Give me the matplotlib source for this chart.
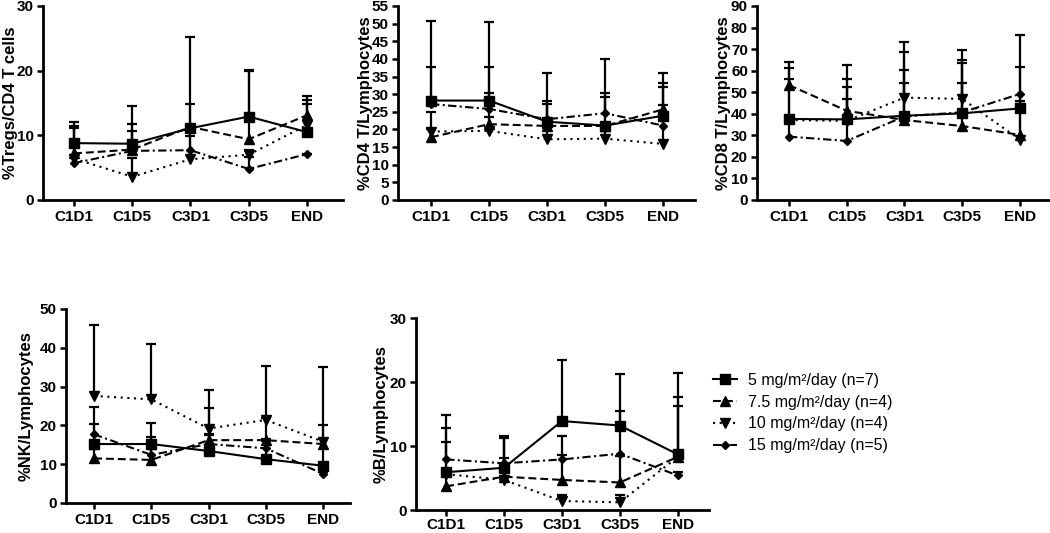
import matplotlib
matplotlib.use('Agg')
import matplotlib.pyplot as plt
import numpy as np
from matplotlib.lines import Line2D

plt.rcParams['font.family'] = ['Liberation Sans', 'DejaVu Sans']

timepoints = ['C1D1', 'C1D5', 'C3D1', 'C3D5', 'END']
doses = ['5 mg/m\u00b2/day (n=7)', '7.5 mg/m\u00b2/day (n=4)',
         '10 mg/m\u00b2/day (n=4)', '15 mg/m\u00b2/day (n=5)']

# rows: 5, 7.5, 10, 15 mg/m2/day ; mean and upper SD
tregs_mean = [[8.8, 8.7, 11.1, 12.9, 10.5],
              [7.2, 7.8, 11.3, 9.4, 13.1],
              [6.4, 3.6, 6.3, 7.0, 11.6],
              [5.7, 7.6, 7.7, 4.8, 7.1]]
tregs_sd = [[3.2, 5.9, 14.1, 7.2, 4.9],
            [4.3, 3.9, 3.5, 10.5, 3.0],
            [4.7, 2.9, 3.6, 0.8, 3.3],
            [1.3, 3.1, 2.8, 1.8, 0.0]]

cd4_mean = [[28.2, 28.2, 22.2, 21.1, 23.9],
            [17.8, 21.5, 21.0, 21.0, 25.7],
            [19.4, 19.6, 17.2, 17.4, 15.9],
            [27.2, 25.8, 22.9, 24.6, 21.1]]
cd4_sd = [[22.5, 22.2, 13.9, 18.9, 9.2],
          [2.2, 8.9, 6.2, 8.2, 10.2],
          [5.6, 4.0, 3.3, 2.1, 11.1],
          [10.6, 12.0, 5.3, 5.7, 10.8]]

cd8_mean = [[37.6, 37.4, 39.1, 40.2, 42.5],
            [53.3, 41.4, 37.1, 34.3, 30.2],
            [37.1, 36.7, 47.5, 46.9, 28.0],
            [29.4, 27.4, 38.8, 40.7, 49.2]]
cd8_sd = [[23.5, 25.2, 34.0, 29.4, 34.0],
          [10.6, 14.6, 17.3, 20.1, 15.7],
          [18.9, 15.9, 21.0, 18.0, 16.5],
          [8.0, 19.5, 21.5, 23.0, 12.3]]

nk_mean = [[15.2, 15.2, 13.4, 11.3, 9.6],
           [11.5, 11.1, 16.2, 16.2, 15.2],
           [27.6, 26.7, 19.2, 21.4, 15.8],
           [17.7, 12.4, 15.2, 14.1, 7.5]]
nk_sd = [[9.5, 5.5, 4.1, 5.2, 10.5],
         [2.5, 2.9, 8.4, 5.6, 1.3],
         [18.3, 14.2, 9.9, 13.9, 19.3],
         [2.7, 4.7, 2.7, 1.9, 0.5]]

b_mean = [[5.9, 6.6, 13.9, 13.2, 8.7],
          [3.7, 5.2, 4.7, 4.3, 8.3],
          [5.6, 4.7, 1.4, 1.2, 8.3],
          [7.9, 7.3, 7.9, 8.8, 5.4]]
b_sd = [[8.9, 5.0, 9.5, 8.0, 12.7],
        [1.8, 6.0, 6.9, 4.1, 9.3],
        [5.1, 3.5, 1.0, 1.2, 7.9],
        [4.9, 4.1, 0.7, 6.6, 0.6]]

W, H = 1050, 533
fig = plt.figure(figsize=(W / 100, H / 100), dpi=100)

styles = [
    dict(ls='-', marker='s', ms=7.0),
    dict(ls=(0, (3.8, 1.9)), marker='^', ms=6.5),
    dict(ls=(0, (1, 2.2)), marker='v', ms=6.5),
    dict(ls=(0, (4, 1.6, 1, 1.6)), marker='D', ms=4.5),
]

# panel boxes in pixels: left, right, top, bottom ; xlim ; ylim; yticks; label ; label right px
panels = [
    dict(box=(43, 343, 6, 200), xlim=(-0.532, 4.618), ymax=30, step=10,
         label='%Tregs/CD4 T cells', lab=18, mean=tregs_mean, sd=tregs_sd, xpad=3),
    dict(box=(398, 695, 6, 200), xlim=(-0.57, 4.55), ymax=55, step=5,
         label='%CD4 T/Lymphocytes', lab=373, mean=cd4_mean, sd=cd4_sd, xpad=3),
    dict(box=(757, 1050, 6, 200), xlim=(-0.554, 4.52), ymax=90, step=10,
         label='%CD8 T/Lymphocytes', lab=731, mean=cd8_mean, sd=cd8_sd, xpad=3),
    dict(box=(66, 350, 309, 503), xlim=(-0.49, 4.47), ymax=50, step=10,
         label='%NK/Lymphocytes', lab=34, mean=nk_mean, sd=nk_sd, xpad=3),
    dict(box=(416, 709, 318, 510), xlim=(-0.52, 4.54), ymax=30, step=10,
         label='%B/Lymphocytes', lab=389, mean=b_mean, sd=b_sd, xpad=1),
]

x = np.arange(len(timepoints))
for p in panels:
    l, r, t, b = p['box']
    ax = fig.add_axes([l / W, 1 - b / H, (r - l) / W, (b - t) / H])
    for i in range(4):
        m = np.array(p['mean'][i])
        s = np.array(p['sd'][i])
        eb = ax.errorbar(x, m, yerr=[np.zeros_like(s), s], fmt='none',
                         ecolor='black', elinewidth=1.6, capsize=3.4,
                         capthick=1.6, zorder=2)
        eb[1][0].set_visible(False)
        st = styles[i]
        ax.plot(x, m, color='black', lw=1.5, ls=st['ls'], marker=st['marker'],
                ms=st['ms'], mfc='black', mec='black', zorder=3)
    ax.set_xlim(*p['xlim'])
    ax.set_ylim(0, p['ymax'])
    ax.set_yticks(np.arange(0, p['ymax'] + 0.1, p['step']))
    ax.set_xticks(x)
    ax.set_xticklabels(timepoints)
    for sp in ['top', 'right']:
        ax.spines[sp].set_visible(False)
    for sp in ['left', 'bottom']:
        ax.spines[sp].set_linewidth(2.0)
    ax.tick_params(axis='both', direction='out', length=4.5, width=1.8,
                   labelsize=11, pad=2)
    ax.tick_params(axis='x', pad=p['xpad'])
    for lbl in ax.get_xticklabels() + ax.get_yticklabels():
        lbl.set_fontweight('bold')
    ax.set_ylabel(p['label'], fontsize=12, fontweight='bold')
    ax.yaxis.set_label_coords((p['lab'] - l) / (r - l), 0.5)
    for sp in ax.spines.values():
        sp.set_capstyle('projecting')

handles = [Line2D([0], [0], color='black', lw=1.5, ls=s['ls'], marker=s['marker'],
                  ms=s['ms'], mfc='black', mec='black') for s in styles]
fig.legend(handles, doses, loc='upper left', bbox_to_anchor=(713 / W, 1 - 373 / H),
           frameon=False, fontsize=11.5, handlelength=1.5, handletextpad=0.7,
           labelspacing=0.42, borderpad=0, borderaxespad=0)

fig.savefig('out.png', dpi=100)
